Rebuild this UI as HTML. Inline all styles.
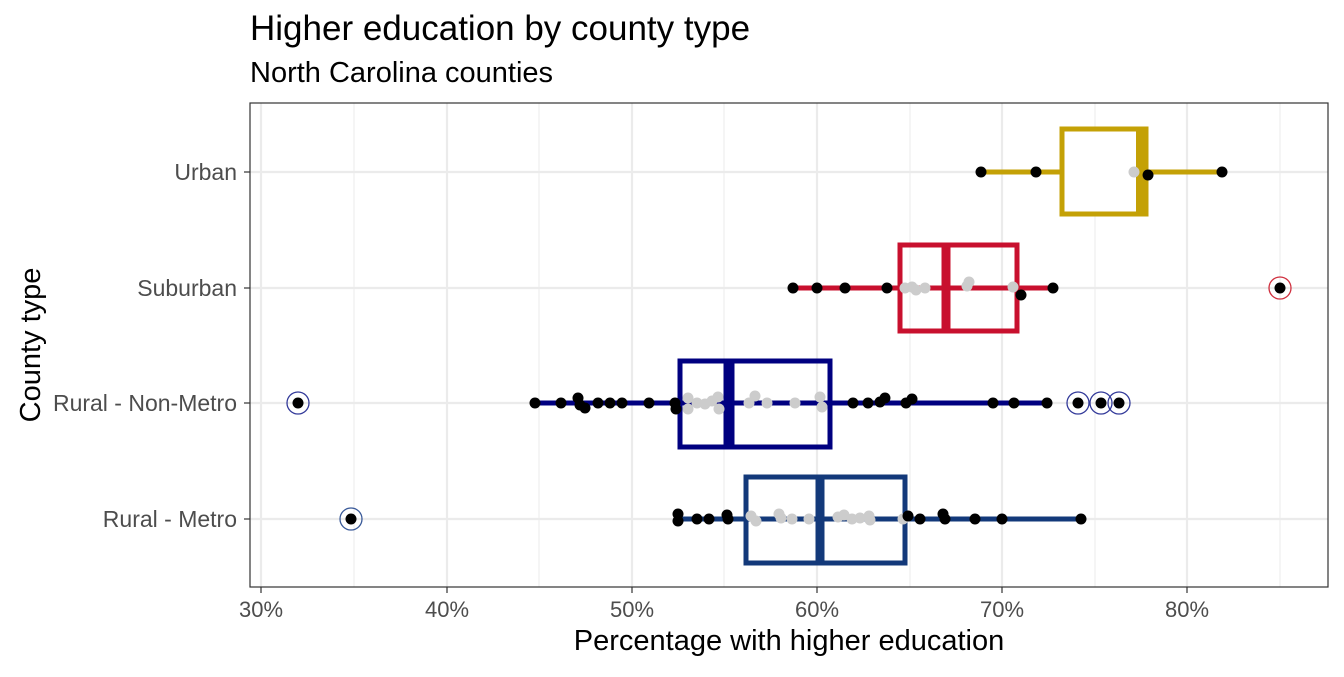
<!DOCTYPE html><html><head><style>body{margin:0;background:#fff}</style></head><body>
<svg width="1344" height="672" xmlns="http://www.w3.org/2000/svg" font-family="Liberation Sans, sans-serif">
<rect width="1344" height="672" fill="#fff"/>
<g stroke="#ebebeb" stroke-width="1"><line x1="354" y1="103" x2="354" y2="587"/><line x1="539" y1="103" x2="539" y2="587"/><line x1="724" y1="103" x2="724" y2="587"/><line x1="910" y1="103" x2="910" y2="587"/><line x1="1095" y1="103" x2="1095" y2="587"/><line x1="1280" y1="103" x2="1280" y2="587"/></g>
<g stroke="#ebebeb" stroke-width="2.2"><line x1="261" y1="103" x2="261" y2="587"/><line x1="447" y1="103" x2="447" y2="587"/><line x1="632" y1="103" x2="632" y2="587"/><line x1="817" y1="103" x2="817" y2="587"/><line x1="1002" y1="103" x2="1002" y2="587"/><line x1="1187" y1="103" x2="1187" y2="587"/>
<line x1="250" y1="172" x2="1328" y2="172"/><line x1="250" y1="288" x2="1328" y2="288"/><line x1="250" y1="403" x2="1328" y2="403"/><line x1="250" y1="519" x2="1328" y2="519"/></g>
<g stroke="#C4A106" fill="none"><line x1="981" y1="172" x2="1222" y2="172" stroke-width="5"/><rect x="1062" y="129" width="84" height="85" stroke-width="5" fill="#fff"/><line x1="1142" y1="129" x2="1142" y2="214" stroke-width="12"/></g>
<g fill="#ccc"><circle cx="1134" cy="172" r="5.5"/></g>
<g fill="#000"><circle cx="981" cy="172" r="5.5"/><circle cx="1036" cy="172" r="5.5"/><circle cx="1148" cy="175" r="5.5"/><circle cx="1222" cy="172" r="5.5"/></g>
<g stroke="#C8102E" fill="none"><line x1="793" y1="288" x2="1053" y2="288" stroke-width="5"/><rect x="900" y="245" width="117" height="86" stroke-width="5"/><line x1="946" y1="245" x2="946" y2="331" stroke-width="9"/></g>
<g fill="#ccc"><circle cx="905" cy="288" r="5.5"/><circle cx="912" cy="287" r="5.5"/><circle cx="916" cy="290" r="5.5"/><circle cx="925" cy="288" r="5.5"/><circle cx="967" cy="286" r="5.5"/><circle cx="969" cy="282" r="5.5"/><circle cx="1013" cy="287" r="5.5"/></g>
<g fill="#000"><circle cx="793" cy="288" r="5.5"/><circle cx="817" cy="288" r="5.5"/><circle cx="845" cy="288" r="5.5"/><circle cx="887" cy="288" r="5.5"/><circle cx="1021" cy="295" r="5.5"/><circle cx="1053" cy="288" r="5.5"/><circle cx="1280" cy="288" r="5.5"/></g>
<circle cx="1280" cy="288" r="11" fill="none" stroke="#d0303f" stroke-width="1.3"/>
<g stroke="#000080" fill="none"><line x1="535" y1="403" x2="1047" y2="403" stroke-width="5"/><rect x="680" y="361" width="150" height="86" stroke-width="5"/><line x1="729" y1="361" x2="729" y2="447" stroke-width="11"/></g>
<g fill="#ccc"><circle cx="688" cy="398" r="5.5"/><circle cx="688" cy="409" r="5.5"/><circle cx="697" cy="403" r="5.5"/><circle cx="705" cy="404" r="5.5"/><circle cx="712" cy="401" r="5.5"/><circle cx="718" cy="397" r="5.5"/><circle cx="719" cy="409" r="5.5"/><circle cx="749" cy="403" r="5.5"/><circle cx="755" cy="396" r="5.5"/><circle cx="767" cy="403" r="5.5"/><circle cx="795" cy="403" r="5.5"/><circle cx="820" cy="397" r="5.5"/><circle cx="822" cy="407" r="5.5"/></g>
<g fill="#000"><circle cx="535" cy="403" r="5.5"/><circle cx="561" cy="403" r="5.5"/><circle cx="578" cy="398" r="5.5"/><circle cx="580" cy="405" r="5.5"/><circle cx="585" cy="408" r="5.5"/><circle cx="598" cy="403" r="5.5"/><circle cx="610" cy="403" r="5.5"/><circle cx="622" cy="403" r="5.5"/><circle cx="649" cy="403" r="5.5"/><circle cx="675" cy="403" r="5.5"/><circle cx="676" cy="409" r="5.5"/><circle cx="853" cy="403" r="5.5"/><circle cx="868" cy="403" r="5.5"/><circle cx="880" cy="402" r="5.5"/><circle cx="885" cy="398" r="5.5"/><circle cx="906" cy="403" r="5.5"/><circle cx="912" cy="399" r="5.5"/><circle cx="993" cy="403" r="5.5"/><circle cx="1014" cy="403" r="5.5"/><circle cx="1047" cy="403" r="5.5"/><circle cx="1078" cy="403" r="5.5"/><circle cx="1101" cy="403" r="5.5"/><circle cx="1119" cy="403" r="5.5"/><circle cx="298" cy="403" r="5.5"/></g>
<g fill="none" stroke="#333a9a" stroke-width="1.3"><circle cx="298" cy="403" r="11"/><circle cx="1078" cy="403" r="11"/><circle cx="1101" cy="403" r="11"/><circle cx="1119" cy="403" r="11"/></g>
<g stroke="#13397A" fill="none"><line x1="678" y1="519" x2="1081" y2="519" stroke-width="5"/><rect x="746" y="477" width="159" height="86" stroke-width="5"/><line x1="820" y1="477" x2="820" y2="563" stroke-width="9"/></g>
<g fill="#ccc"><circle cx="751" cy="516" r="5.5"/><circle cx="756" cy="521" r="5.5"/><circle cx="779" cy="514" r="5.5"/><circle cx="781" cy="518" r="5.5"/><circle cx="792" cy="519" r="5.5"/><circle cx="809" cy="519" r="5.5"/><circle cx="838" cy="517" r="5.5"/><circle cx="844" cy="515" r="5.5"/><circle cx="852" cy="519" r="5.5"/><circle cx="860" cy="518" r="5.5"/><circle cx="869" cy="516" r="5.5"/><circle cx="870" cy="520" r="5.5"/><circle cx="903" cy="519" r="5.5"/></g>
<g fill="#000"><circle cx="678" cy="514" r="5.5"/><circle cx="678" cy="521" r="5.5"/><circle cx="697" cy="519" r="5.5"/><circle cx="709" cy="519" r="5.5"/><circle cx="727" cy="515" r="5.5"/><circle cx="728" cy="519" r="5.5"/><circle cx="908" cy="516" r="5.5"/><circle cx="920" cy="519" r="5.5"/><circle cx="943" cy="514" r="5.5"/><circle cx="945" cy="519" r="5.5"/><circle cx="975" cy="519" r="5.5"/><circle cx="1002" cy="519" r="5.5"/><circle cx="1081" cy="519" r="5.5"/><circle cx="351" cy="519" r="5.5"/></g>
<circle cx="351" cy="519" r="11" fill="none" stroke="#3a5a99" stroke-width="1.3"/>
<rect x="250" y="103" width="1078" height="484" fill="none" stroke="#333" stroke-width="1.2"/>
<g stroke="#333" stroke-width="1.2"><line x1="244" y1="172" x2="250" y2="172"/><line x1="244" y1="288" x2="250" y2="288"/><line x1="244" y1="403" x2="250" y2="403"/><line x1="244" y1="519" x2="250" y2="519"/>
<line x1="261" y1="587" x2="261" y2="593"/><line x1="447" y1="587" x2="447" y2="593"/><line x1="632" y1="587" x2="632" y2="593"/><line x1="817" y1="587" x2="817" y2="593"/><line x1="1002" y1="587" x2="1002" y2="593"/><line x1="1187" y1="587" x2="1187" y2="593"/></g>
<g font-size="23" fill="#4d4d4d" text-anchor="end"><text x="237" y="180">Urban</text><text x="237" y="296">Suburban</text><text x="237" y="411">Rural - Non-Metro</text><text x="237" y="527">Rural - Metro</text></g>
<g font-size="22" fill="#4d4d4d" text-anchor="middle"><text x="261" y="617">30%</text><text x="447" y="617">40%</text><text x="632" y="617">50%</text><text x="817" y="617">60%</text><text x="1002" y="617">70%</text><text x="1187" y="617">80%</text></g>
<text x="789" y="650" font-size="29" text-anchor="middle">Percentage with higher education</text>
<text transform="translate(40,345) rotate(-90)" font-size="29" text-anchor="middle">County type</text>
<text x="250" y="40" font-size="35">Higher education by county type</text>
<text x="250" y="82" font-size="29">North Carolina counties</text>
</svg></body></html>
